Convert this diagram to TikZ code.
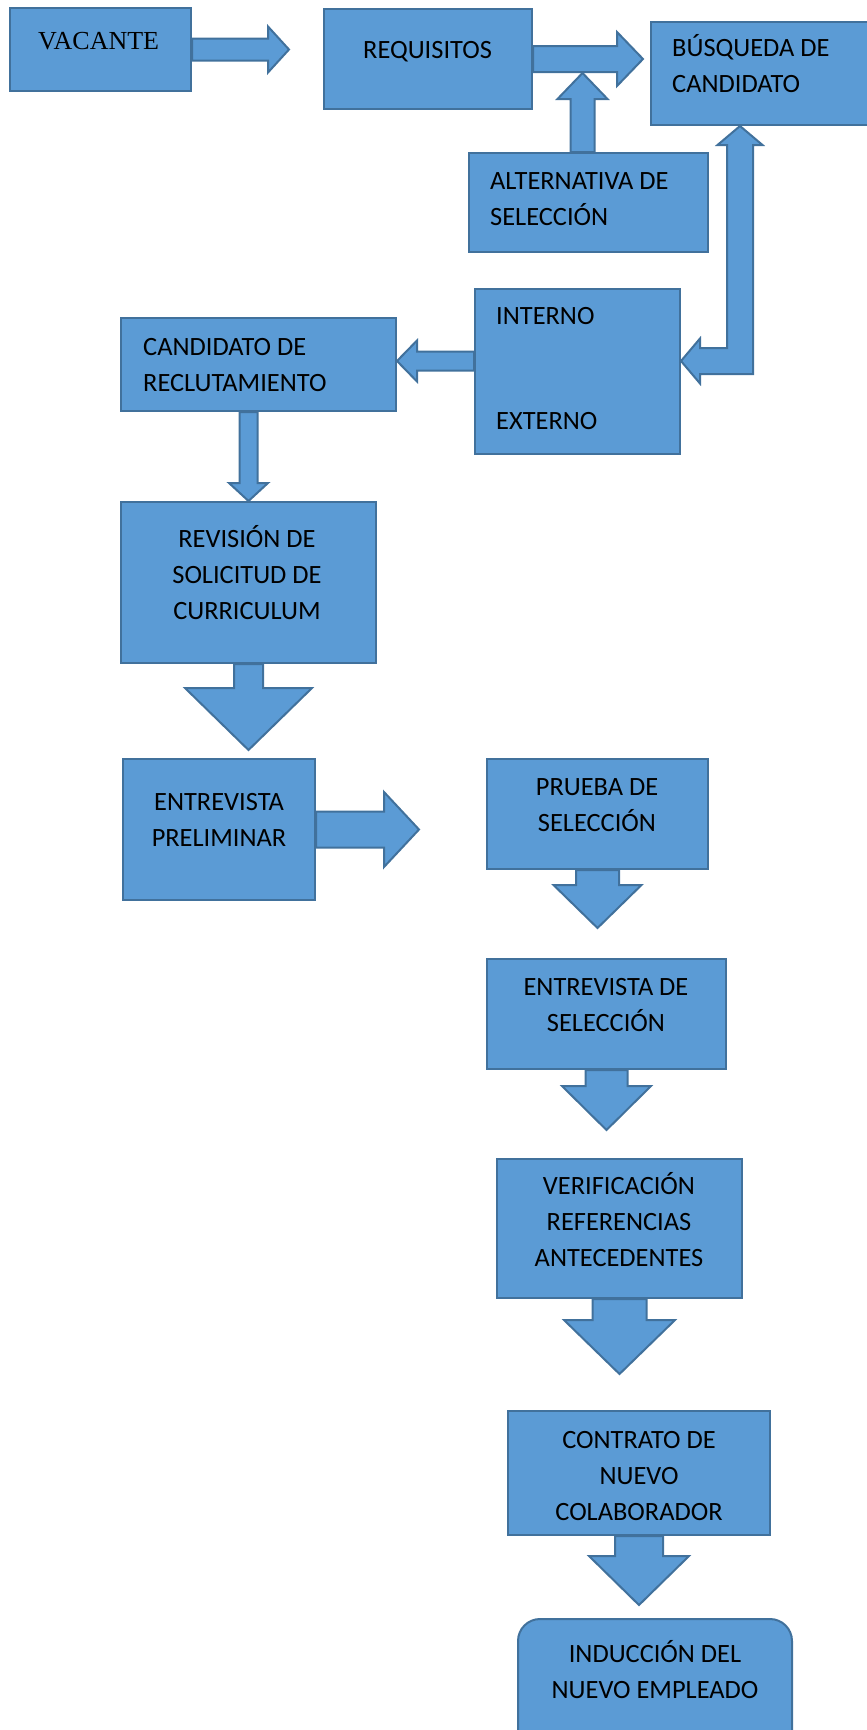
\documentclass[tikz,border=0pt]{standalone}
\usepackage{fontspec}
\usepackage{xcolor}
\usepackage{tikz}
\usetikzlibrary{calc}
\newfontfamily\calibri{Carlito}
\newfontfamily\serifa{Liberation Serif}

\definecolor{azulrelleno}{HTML}{5B9BD5}
\definecolor{azulborde}{HTML}{41719C}

\tikzset{
  caja/.style 2 args={draw=azulborde, fill=azulrelleno, line width=2pt, inner sep=0pt, minimum width=#1, minimum height=#2},
  flecha/.style={draw=azulborde, fill=azulrelleno, line width=2pt, line join=miter},
  texto/.style={font=\calibri\fontsize{26.4}{36}\selectfont, inner sep=0pt, align=left, anchor=west},
  textoc/.style={font=\calibri\fontsize{26.4}{36}\selectfont, inner sep=0pt, align=center}
}

% flechas gruesas: inicio, punta, medio ancho, medio ancho de punta, largo de punta
\newcommand{\flechader}[5]{%
  \draw[flecha] let \p1=#1, \p2=#2 in
    (\x1,\y1+#3pt) -- (\x2-#5pt,\y1+#3pt) -- (\x2-#5pt,\y1+#4pt) -- (\x2,\y1)
    -- (\x2-#5pt,\y1-#4pt) -- (\x2-#5pt,\y1-#3pt) -- (\x1,\y1-#3pt) -- cycle;}
\newcommand{\flechaizq}[5]{%
  \draw[flecha] let \p1=#1, \p2=#2 in
    (\x1,\y1+#3pt) -- (\x2+#5pt,\y1+#3pt) -- (\x2+#5pt,\y1+#4pt) -- (\x2,\y1)
    -- (\x2+#5pt,\y1-#4pt) -- (\x2+#5pt,\y1-#3pt) -- (\x1,\y1-#3pt) -- cycle;}
\newcommand{\flechaabajo}[5]{%
  \draw[flecha] let \p1=#1, \p2=#2 in
    (\x1-#3pt,\y1) -- (\x1-#3pt,\y2+#5pt) -- (\x1-#4pt,\y2+#5pt) -- (\x1,\y2)
    -- (\x1+#4pt,\y2+#5pt) -- (\x1+#3pt,\y2+#5pt) -- (\x1+#3pt,\y1) -- cycle;}
\newcommand{\flechaarriba}[5]{%
  \draw[flecha] let \p1=#1, \p2=#2 in
    (\x1-#3pt,\y1) -- (\x1-#3pt,\y2-#5pt) -- (\x1-#4pt,\y2-#5pt) -- (\x1,\y2)
    -- (\x1+#4pt,\y2-#5pt) -- (\x1+#3pt,\y2-#5pt) -- (\x1+#3pt,\y1) -- cycle;}

\begin{document}
\begin{tikzpicture}[x=1pt,y=-1pt]
\useasboundingbox (0,0) rectangle (867,1730);
\clip (0,0) rectangle (867,1730);

% Cajas de arriba
\node[caja={181pt}{83pt}] (vac) at (100.5,49.5) {};
\node[caja={208pt}{100pt}] (req) at (428,59) {};
\node[caja={240pt}{103pt}] (busq) at (771,73.5) {};
\node[caja={239pt}{99pt}] (alt) at (588.5,202.5) {};
\node[caja={205pt}{165pt}] (intext) at (577.5,371.5) {};
\node[caja={275pt}{93pt}] (cand) at (258.5,364.5) {};
\coordinate (codo) at (740,361);

% Cajas de la columna izquierda
\node[caja={255pt}{161pt}] (rev) at (248.5,582.5) {};
\node[caja={192pt}{141pt}] (entp) at (219,829.5) {};

% Cajas de la columna derecha
\node[caja={221pt}{110pt}] (prueba) at (597.5,814) {};
\node[caja={239pt}{110pt}] (entsel) at (606.5,1014) {};
\node[caja={245pt}{139pt}] (verif) at (619.5,1228.5) {};
\node[caja={262pt}{124pt}] (contr) at (639,1473) {};
\node[caja={274pt}{140pt}, rounded corners=22pt] (ind) at (655,1689) {};

% Flechas
\flechader{(vac.east)}{($(vac.east)+(97,0)$)}{11}{23}{21}
\flechader{(req.east)}{($(req.east -| busq.west)+(-7,0)$)}{13}{27}{26}
\flechaarriba{($(alt.north)+(-6,0)$)}{($(alt.north |- req.east)+(-6,14)$)}{12}{25}{26}
\draw[flecha] let \p1=(codo |- busq.south), \p2=(codo), \p3=(codo -| intext.east) in
  (\x1,\y1) -- (\x1+22.5pt,\y1-19pt) -- (\x1+13pt,\y1-19pt) -- (\x2+13pt,\y2-13pt)
  -- (\x3+19pt,\y2-13pt) -- (\x3+19pt,\y2-22.5pt) -- (\x3,\y2) -- (\x3+19pt,\y2+22.5pt)
  -- (\x3+19pt,\y2+13pt) -- (\x2-13pt,\y2+13pt) -- (\x1-13pt,\y1-19pt)
  -- (\x1-22.5pt,\y1-19pt) -- cycle;
\flechaizq{(intext.west |- codo)}{(cand.east |- codo)}{9.5}{20.5}{20}
\flechaabajo{(rev.north |- cand.south)}{(rev.north)}{9}{19.5}{18}
\flechaabajo{(rev.south)}{($(rev.south)+(0,86)$)}{14.5}{63.5}{62}
\flechader{(entp.east)}{($(entp.east)+(103,0)$)}{18}{37.5}{35}
\foreach \nodo/\dist/\ancho/\punta/\largo in {prueba/58/21.5/44/43, entsel/60/21/44.5/44,
    verif/75/27/55.5/54, contr/69/24/50/49}{
  \flechaabajo{(\nodo.south)}{($(\nodo.south)+(0,\dist)$)}{\ancho}{\punta}{\largo}
}

% Textos
\node[texto, font=\serifa\fontsize{26}{36}\selectfont] (vac-t) at (38,42) {\strut VACANTE};
\node[texto] (req-t) at (363,51) {\strut REQUISITOS};
\node[texto] (busq-t) at (672,67) {\strut BÚSQUEDA DE\\CANDIDATO\strut};
\node[texto] (alt-t) at (490,200) {\strut ALTERNATIVA DE\\SELECCIÓN\strut};
\node[texto] (int-t) at (496,317) {\strut INTERNO};
\node[texto] (ext-t) at (496,422) {\strut EXTERNO};
\node[texto] (cand-t) at (143,366) {\strut CANDIDATO DE\\RECLUTAMIENTO\strut};
\node[textoc] (rev-t) at (247,576) {\strut REVISIÓN DE\\SOLICITUD DE\\CURRICULUM\strut};
\node[textoc] (entp-t) at (219,821) {\strut ENTREVISTA\\PRELIMINAR\strut};
\node[textoc] (prueba-t) at (597,806) {\strut PRUEBA DE\\SELECCIÓN\strut};
\node[textoc] (entsel-t) at (606,1006) {\strut ENTREVISTA DE\\SELECCIÓN\strut};
\node[textoc] (verif-t) at (619,1223) {\strut VERIFICACIÓN\\REFERENCIAS\\ANTECEDENTES\strut};
\node[textoc] (contr-t) at (639,1477) {\strut CONTRATO DE\\NUEVO\\COLABORADOR\strut};
\node[textoc] (ind-t) at (655,1673) {\strut INDUCCIÓN DEL\\NUEVO EMPLEADO\strut};
\end{tikzpicture}
\end{document}
